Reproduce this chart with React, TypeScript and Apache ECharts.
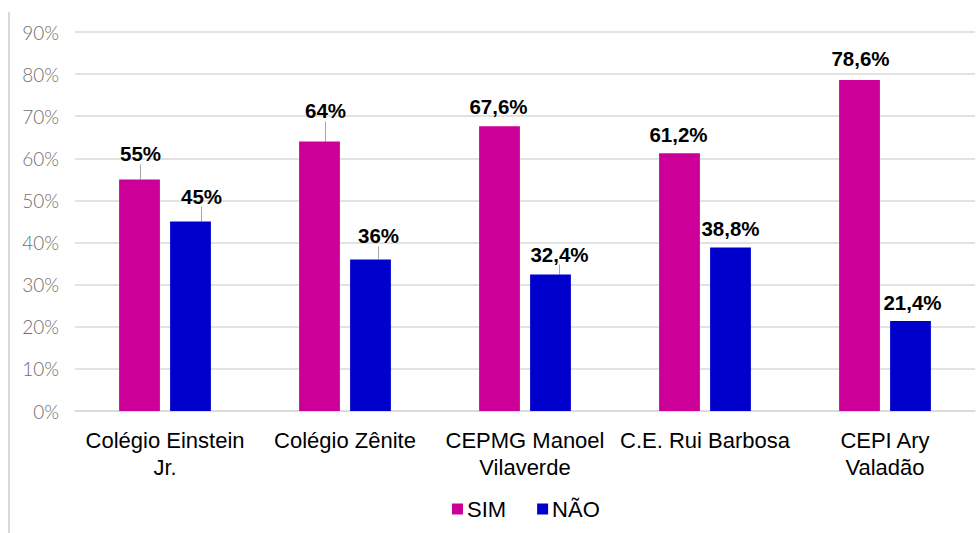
import React, { useEffect, useRef } from "react";
import * as echarts from "echarts";

const categories = [
  "Colégio Einstein\nJr.",
  "Colégio Zênite",
  "CEPMG Manoel\nVilaverde",
  "C.E. Rui Barbosa",
  "CEPI Ary\nValadão",
];
const simValues = [55, 64, 67.6, 61.2, 78.6];
const naoValues = [45, 36, 32.4, 38.8, 21.4];
const seriesNames = ["SIM", "NÃO"];
const yTicks = { min: 0, max: 90, interval: 10 };

// label nudges (layout only)
const simShift = [
  [1, -10],
  [6, -15],
  [-1, -4],
  [-1, -3],
  [1, -6],
];
const naoShift = [
  [11, -10],
  [8, -8],
  [9, -5],
  [0, -4],
  [2, -3],
];
const simLine = [true, true, false, false, false];
const naoLine = [true, true, true, false, false];

const fmt = (v: number) => String(v).replace(".", ",") + "%";

export default function App() {
  const ref = useRef<HTMLDivElement>(null);
  useEffect(() => {
    document.body.style.margin = "0";
    const chart = echarts.init(ref.current!, null, { renderer: "svg" });
    const mkData = (vals: number[], lines: boolean[]) =>
      vals.map((v, i) => ({ value: v, labelLine: { show: lines[i] } }));
    const labelStyle = {
      show: true,
      position: "top",
      distance: 5,
      fontFamily: "Liberation Sans, Arial, sans-serif",
      fontWeight: "bold",
      fontSize: 20.5,
      color: "#000",
      formatter: (p: any) => fmt(p.value),
    };
    const labelLine = { show: true, lineStyle: { color: "#a6a6a6", width: 1 } };
    chart.setOption({
      animation: false,
      backgroundColor: "#fff",
      grid: { left: 75, right: 1, top: 32, bottom: 122, containLabel: false },
      legend: {
        bottom: 8,
        left: 447,
        itemWidth: 11,
        itemHeight: 11,
        itemGap: 31,
        icon: "rect",
        textStyle: {
          fontFamily: "Liberation Sans, Arial, sans-serif",
          fontSize: 22,
          color: "#000",
          padding: [0, 0, 0, -1],
        },
        data: seriesNames,
      },
      xAxis: {
        type: "category",
        data: categories,
        axisLine: { lineStyle: { color: "#d9d9d9", width: 1.5 } },
        axisTick: { show: false },
        axisLabel: {
          fontFamily: "Liberation Sans, Arial, sans-serif",
          fontSize: 22,
          color: "#000",
          lineHeight: 27,
          margin: 16,
          interval: 0,
        },
      },
      yAxis: {
        type: "value",
        min: yTicks.min,
        max: yTicks.max,
        interval: yTicks.interval,
        axisLine: { show: false },
        axisTick: { show: false },
        splitLine: { lineStyle: { color: "#d9d9d9", width: 1.5 } },
        axisLabel: {
          formatter: "{value}%",
          fontFamily: "Lato, DejaVu Sans, sans-serif",
          fontWeight: 300,
          fontSize: 19,
          color: "#6f6f6f",
          margin: 16,
        },
      },
      graphic: [
        {
          type: "line",
          shape: { x1: 9, y1: 12, x2: 9, y2: 533 },
          style: { stroke: "#d9d9d9", lineWidth: 2 },
        },
      ],
      series: [
        {
          name: seriesNames[0],
          type: "bar",
          data: mkData(simValues, simLine),
          itemStyle: { color: "#CC0099" },
          barGap: "25%",
          barCategoryGap: "49%",
          label: labelStyle,
          labelLine,
          labelLayout: (p: any) => ({ dx: simShift[p.dataIndex][0], dy: simShift[p.dataIndex][1] }),
        },
        {
          name: seriesNames[1],
          type: "bar",
          data: mkData(naoValues, naoLine),
          itemStyle: { color: "#0000CC" },
          barGap: "25%",
          barCategoryGap: "49%",
          label: labelStyle,
          labelLine,
          labelLayout: (p: any) => ({ dx: naoShift[p.dataIndex][0], dy: naoShift[p.dataIndex][1] }),
        },
      ],
    });
    return () => chart.dispose();
  }, []);
  return <div ref={ref} style={{ width: 976, height: 533 }} />;
}
